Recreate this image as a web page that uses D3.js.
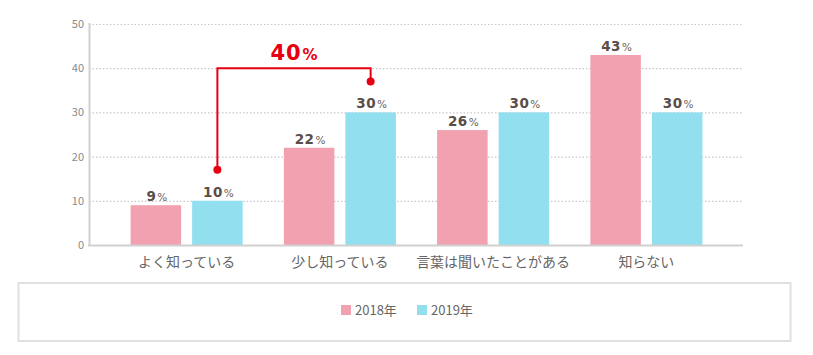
<!DOCTYPE html>
<html><head><meta charset="utf-8">
<script src="https://cdn.jsdelivr.net/npm/d3@7"></script>
<style>
html,body{margin:0;padding:0;background:#fff;}
svg{display:block;}
</style></head>
<body>
<svg id="chart" width="813" height="355"></svg>
<script>
const categories = ["よく知っている","少し知っている","言葉は聞いたことがある","知らない"];
const seriesNames = ["2018年","2019年"];
const values2018 = [9,22,26,43];
const values2019 = [10,30,30,30];
const yTicks = [0,10,20,30,40,50];
const annotationLabel = "40";
const annotationFrom = {cat: 0, series: 1, value: 17};
const annotationTo = {cat: 1, series: 1, value: 37};
const annotationTop = 40;

const colors = {"2018年":"#f2a1b0","2019年":"#92dff0"};
const svg = d3.select("#chart");
const font = "'Noto Sans CJK JP','Noto Sans',sans-serif";
const numFont = "'DejaVu Sans',sans-serif";

const y = d3.scaleLinear().domain([0,50]).range([245,24]);
const x0 = d3.scaleBand().domain(categories).range([110,723]).padding(0);
const x1 = d3.scaleBand().domain(seriesNames).range([20.6, x0.bandwidth()-20.6]).paddingInner(11/61.5).paddingOuter(0);

// grid
const gridX0 = 89, gridX1 = 743;
svg.append("g").selectAll("line").data(yTicks.filter(d=>d>0)).join("line")
  .attr("x1",gridX0).attr("x2",gridX1)
  .attr("y1",d=>y(d)+0.5).attr("y2",d=>y(d)+0.5)
  .attr("stroke","#c8c8c8").attr("stroke-width",1.2).attr("stroke-dasharray","1.5,2");

// y tick labels
svg.append("g").selectAll("text").data(yTicks).join("text")
  .attr("x",84).attr("y",d=>y(d)+4)
  .attr("text-anchor","end").attr("font-family",font).attr("font-size",11).attr("fill","#8a8a8a")
  .text(d=>d);

// bars
const data = [];
categories.forEach((c,i)=>{
  data.push({cat:c, s:"2018年", v:values2018[i]});
  data.push({cat:c, s:"2019年", v:values2019[i]});
});
svg.append("g").selectAll("rect").data(data).join("rect")
  .attr("x",d=>x0(d.cat)+x1(d.s))
  .attr("width",x1.bandwidth())
  .attr("y",d=>y(d.v))
  .attr("height",d=>y(0)-y(d.v))
  .attr("fill",d=>colors[d.s]);

// axes lines
svg.append("line").attr("x1",89.5).attr("x2",89.5).attr("y1",y(50)-1).attr("y2",y(0)+1)
  .attr("stroke","#d0d0d0").attr("stroke-width",2);
svg.append("line").attr("x1",88).attr("x2",gridX1).attr("y1",y(0)+0.5).attr("y2",y(0)+0.5)
  .attr("stroke","#d0d0d0").attr("stroke-width",2);

// value labels
const vl = svg.append("g").selectAll("text").data(data).join("text")
  .attr("x",d=>x0(d.cat)+x1(d.s)+x1.bandwidth()/2+1)
  .attr("y",d=>y(d.v)-4)
  .attr("text-anchor","middle").attr("font-family",numFont).attr("fill","#5b4d47");
vl.append("tspan").attr("font-size",13.5).attr("font-weight","bold").attr("letter-spacing",0.5).text(d=>d.v);
vl.append("tspan").attr("font-size",10.5).attr("fill","#6b5f5a").attr("dx",1).text("%");

// category labels
svg.append("g").selectAll("text").data(categories).join("text")
  .attr("x",d=>x0(d)+x0.bandwidth()/2)
  .attr("y",267)
  .attr("text-anchor","middle").attr("font-family",font).attr("font-size",14).attr("fill","#666")
  .text(d=>d);

// annotation
const red = "#e60012";
const ax1 = x0(categories[annotationFrom.cat]) + x1(seriesNames[annotationFrom.series]) + x1.bandwidth()/2;
const ax2 = x0(categories[annotationTo.cat]) + x1(seriesNames[annotationTo.series]) + x1.bandwidth()/2;
const ay = y(annotationTop);
svg.append("path")
  .attr("d",`M${ax1},${y(annotationFrom.value)}V${ay}H${ax2}V${y(annotationTo.value)}`)
  .attr("fill","none").attr("stroke",red).attr("stroke-width",2);
svg.append("circle").attr("cx",ax1).attr("cy",y(annotationFrom.value)).attr("r",4).attr("fill",red);
svg.append("circle").attr("cx",ax2).attr("cy",y(annotationTo.value)).attr("r",4).attr("fill",red);
const at = svg.append("text").attr("x",(ax1+ax2)/2).attr("y",ay-8)
  .attr("text-anchor","middle").attr("font-family",numFont).attr("fill",red);
at.append("tspan").attr("font-size",21).attr("font-weight","bold").attr("letter-spacing",1).text(annotationLabel);
at.append("tspan").attr("font-size",15).attr("font-weight","bold").attr("dx",1).text("%");

// legend box
svg.append("rect").attr("x",18.5).attr("y",283).attr("width",772).attr("height",58)
  .attr("fill","#fff").attr("stroke","#e0e0e0").attr("stroke-width",2);
const legX = [341, 417];
const lg = svg.append("g").selectAll("g").data(seriesNames).join("g")
  .attr("transform",(d,i)=>`translate(${legX[i]},305)`);
lg.append("rect").attr("width",10).attr("height",10).attr("fill",d=>colors[d]);
lg.append("text").attr("x",14).attr("y",10).attr("font-family",font).attr("font-size",13).attr("fill","#666").text(d=>d);
</script>
</body></html>
